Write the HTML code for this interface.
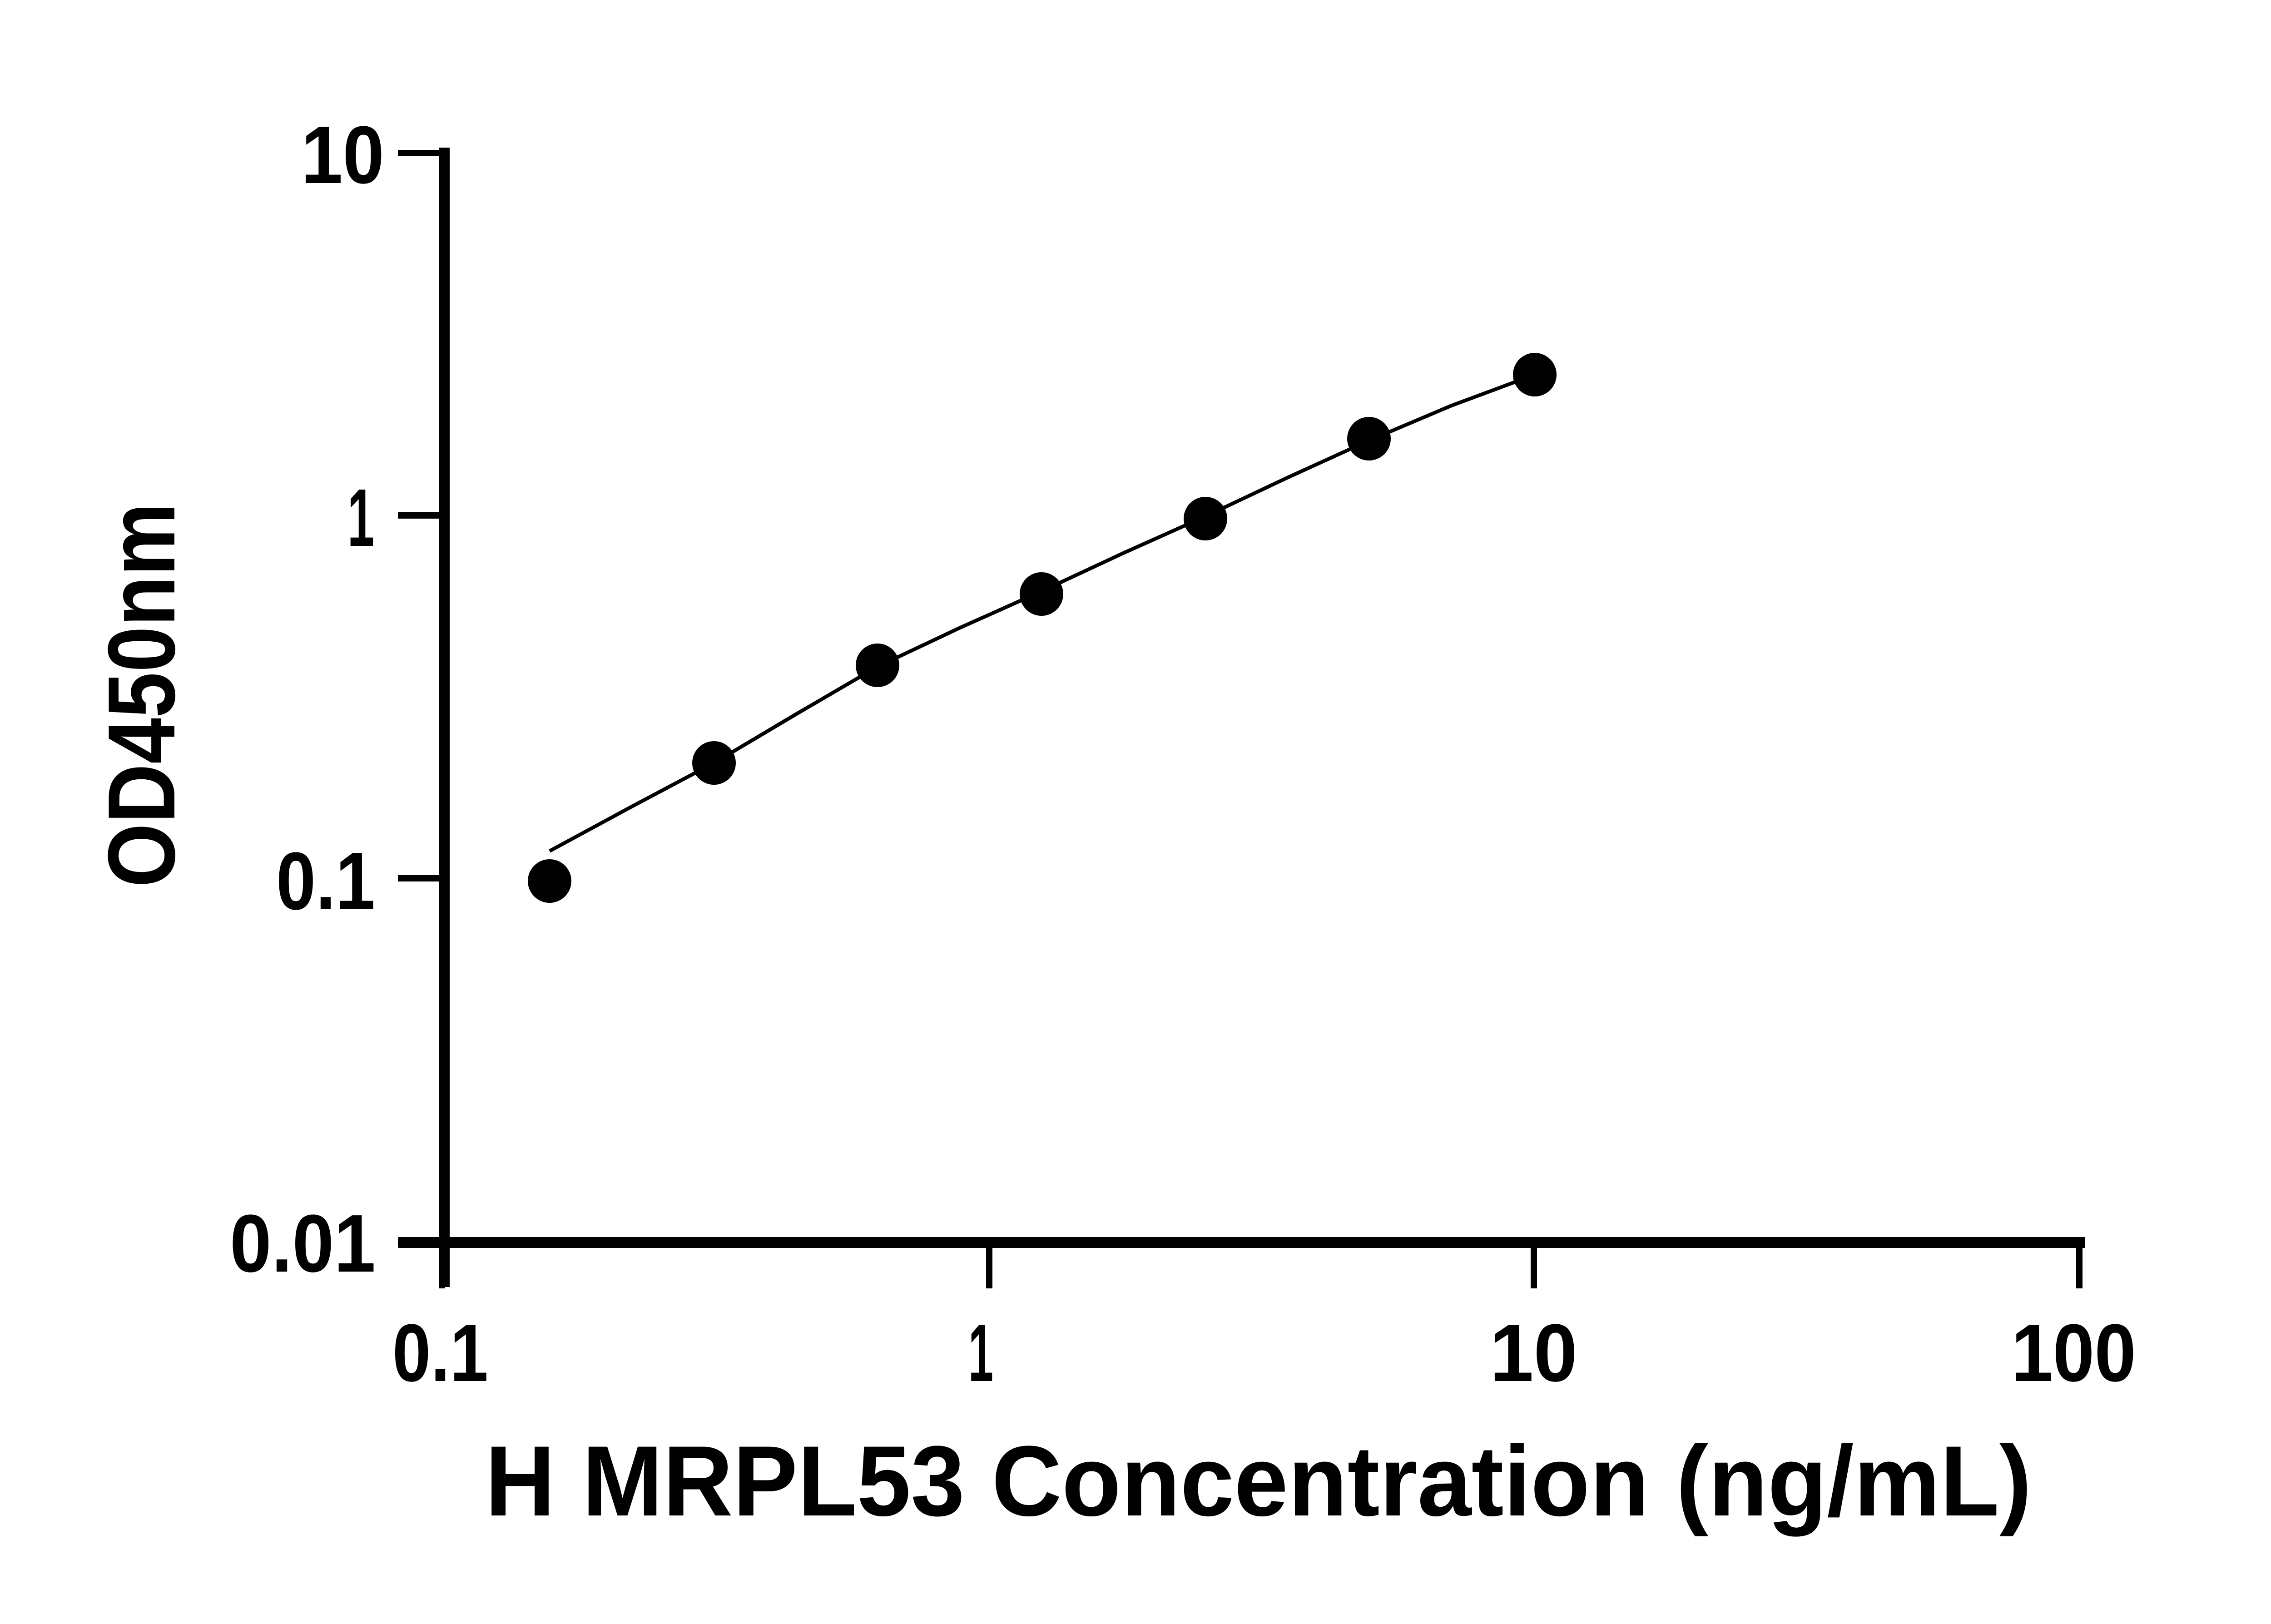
<!DOCTYPE html>
<html><head><meta charset="utf-8"><style>
html,body{margin:0;padding:0;background:#fff;}
svg{display:block;}
text{font-family:"Liberation Sans",sans-serif;font-weight:bold;fill:#000;}
</style></head><body>
<svg width="5130" height="3576" viewBox="0 0 5130 3576" xmlns="http://www.w3.org/2000/svg">
<rect width="5130" height="3576" fill="#fff"/>
<!-- axes -->
<line x1="978" y1="325" x2="978" y2="2834" stroke="#000" stroke-width="24"/>
<line x1="877" y1="2736" x2="4590" y2="2736" stroke="#000" stroke-width="24"/>
<!-- y ticks -->
<g stroke="#000" stroke-width="14">
<line x1="876" y1="337" x2="978" y2="337"/>
<line x1="876" y1="1135" x2="978" y2="1135"/>
<line x1="876" y1="1934" x2="978" y2="1934"/>
<line x1="876" y1="2736" x2="978" y2="2736"/>
</g>
<!-- x ticks -->
<g stroke="#000" stroke-width="14">
<line x1="973" y1="2736" x2="973" y2="2837"/>
<line x1="2178" y1="2736" x2="2178" y2="2837"/>
<line x1="3377" y1="2736" x2="3377" y2="2837"/>
<line x1="4578" y1="2736" x2="4578" y2="2837"/>
</g>
<!-- y tick labels -->
<g font-size="180">
<text x="663" y="403" textLength="183" lengthAdjust="spacingAndGlyphs">10</text>
<text x="765" y="1202" textLength="59" lengthAdjust="spacingAndGlyphs">1</text>
<text x="608" y="2002" textLength="218" lengthAdjust="spacingAndGlyphs">0.1</text>
<text x="506" y="2800" textLength="321" lengthAdjust="spacingAndGlyphs">0.01</text>
</g>
<!-- x tick labels -->
<g font-size="180">
<text x="864" y="3041" textLength="211" lengthAdjust="spacingAndGlyphs">0.1</text>
<text x="2132" y="3041" textLength="55" lengthAdjust="spacingAndGlyphs">1</text>
<text x="3280" y="3041" textLength="193" lengthAdjust="spacingAndGlyphs">10</text>
<text x="4428" y="3041" textLength="275" lengthAdjust="spacingAndGlyphs">100</text>
</g>
<!-- axis titles -->
<text x="1068" y="3337" font-size="220" textLength="3405" lengthAdjust="spacingAndGlyphs">H MRPL53 Concentration (ng/mL)</text>
<text transform="translate(384,1954) rotate(-90)" x="0" y="0" font-size="210" textLength="847" lengthAdjust="spacingAndGlyphs">OD450nm</text>
<!-- curve -->
<polyline fill="none" stroke="#000" stroke-width="8" points="1210,1874 1391,1776 1572,1680 1752,1573 1932,1468 2112,1383 2293,1302 2473,1218 2654,1137 2834,1052 3014,970 3196,893 3379,825"/>
<!-- points -->
<g fill="#000">
<circle cx="1210" cy="1940" r="48"/>
<circle cx="1572" cy="1680" r="48"/>
<circle cx="1932" cy="1465" r="48"/>
<circle cx="2293" cy="1308" r="48"/>
<circle cx="2654" cy="1142" r="48"/>
<circle cx="3014" cy="966" r="48"/>
<circle cx="3379" cy="825" r="48"/>
</g>
</svg>
</body></html>
